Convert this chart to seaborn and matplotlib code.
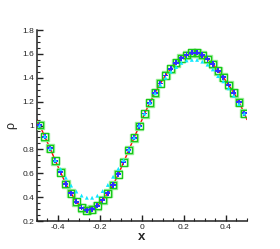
import numpy as np
import pandas as pd
import matplotlib
matplotlib.use('Agg')
import matplotlib.pyplot as plt
from matplotlib.ticker import MultipleLocator, FuncFormatter
import seaborn as sns

# cell centres and values
x_pts = [-0.4875, -0.4625, -0.4375, -0.4125, -0.3875, -0.3625, -0.3375, -0.3125,
         -0.2875, -0.2625, -0.2375, -0.2125, -0.1875, -0.1625, -0.1375, -0.1125,
         -0.0875, -0.0625, -0.0375, -0.0125, 0.0125, 0.0375, 0.0625, 0.0875,
         0.1125, 0.1375, 0.1625, 0.1875, 0.2125, 0.2375, 0.2625, 0.2875,
         0.3125, 0.3375, 0.3625, 0.3875, 0.4125, 0.4375, 0.4625, 0.4875]
rho_sq = [1.004, 0.906, 0.809, 0.705, 0.608, 0.510, 0.432, 0.362,
          0.311, 0.290, 0.298, 0.328, 0.376, 0.432, 0.502, 0.591,
          0.692, 0.795, 0.898, 0.996, 1.100, 1.191, 1.275, 1.353,
          1.420, 1.476, 1.526, 1.563, 1.590, 1.610, 1.610, 1.590,
          1.557, 1.515, 1.459, 1.404, 1.339, 1.275, 1.194, 1.102]
rho_tri = [1.0, 0.91, 0.81, 0.71, 0.635, 0.563, 0.497, 0.447,
           0.413, 0.395, 0.395, 0.412, 0.451, 0.502, 0.571, 0.638,
           0.711, 0.80, 0.90, 1.0, 1.10, 1.19, 1.27, 1.34,
           1.40, 1.45, 1.49, 1.525, 1.545, 1.55, 1.55, 1.535,
           1.51, 1.47, 1.414, 1.37, 1.311, 1.25, 1.18, 1.10]

# exact line: same points plus the periodic ends
x_line = [-0.5] + x_pts + [0.5]
rho_line = [1.05] + rho_sq + [1.05]

sq = pd.DataFrame({'x': x_pts, 'rho': rho_sq})
tri = pd.DataFrame({'x': x_pts, 'rho': rho_tri})
line = pd.DataFrame({'x': x_line, 'rho': rho_line})

sns.set_style('ticks')
plt.rcParams['font.family'] = ['Liberation Sans', 'DejaVu Sans']
plt.rcParams['axes.unicode_minus'] = False

fig = plt.figure(figsize=(2.8, 2.49), dpi=100)
ax = fig.add_axes([0.132, 0.1124, 0.75, 0.7671])

sns.lineplot(data=line, x='x', y='rho', color='red', lw=1.0, ax=ax, zorder=2)
# light halo + green square outline
sns.scatterplot(data=sq, x='x', y='rho', marker='s', s=34, facecolor='none',
                edgecolor='#99ee99', linewidth=1.0, ax=ax, zorder=3)
sns.scatterplot(data=sq, x='x', y='rho', marker='s', s=24, facecolor='none',
                edgecolor='#18c818', linewidth=1.0, ax=ax, zorder=3)
sns.scatterplot(data=sq, x='x', y='rho', marker='P', s=14, color='#3030ff',
                edgecolor='none', ax=ax, zorder=4)
sns.scatterplot(data=tri, x='x', y='rho', marker='^', s=8, color='#10e8ff',
                edgecolor='none', ax=ax, zorder=5)

ax.set_xlim(-0.5, 0.5)
ax.set_ylim(0.2, 1.8)
ax.xaxis.set_major_locator(MultipleLocator(0.2))
ax.xaxis.set_minor_locator(MultipleLocator(0.05))
ax.yaxis.set_major_locator(MultipleLocator(0.2))
ax.yaxis.set_minor_locator(MultipleLocator(0.05))
fmt = FuncFormatter(lambda v, p: '%g' % round(v, 2))
ax.xaxis.set_major_formatter(fmt)
ax.yaxis.set_major_formatter(fmt)

ax.tick_params(which='major', direction='in', length=4.5, width=1.0,
               labelsize=6, pad=2, color='#222222', labelcolor='#222222')
ax.tick_params(which='minor', direction='in', length=2.5, width=0.8, color='#222222')
for s in ['top', 'right']:
    ax.spines[s].set_visible(False)
for s in ['left', 'bottom']:
    ax.spines[s].set_linewidth(1.1)
    ax.spines[s].set_color('#222222')

ax.set_xlabel('x', fontsize=9.5, fontweight='bold', labelpad=0.5)
ax.set_ylabel('ρ', fontsize=9, labelpad=4)

fig.savefig('out.png', dpi=100)
